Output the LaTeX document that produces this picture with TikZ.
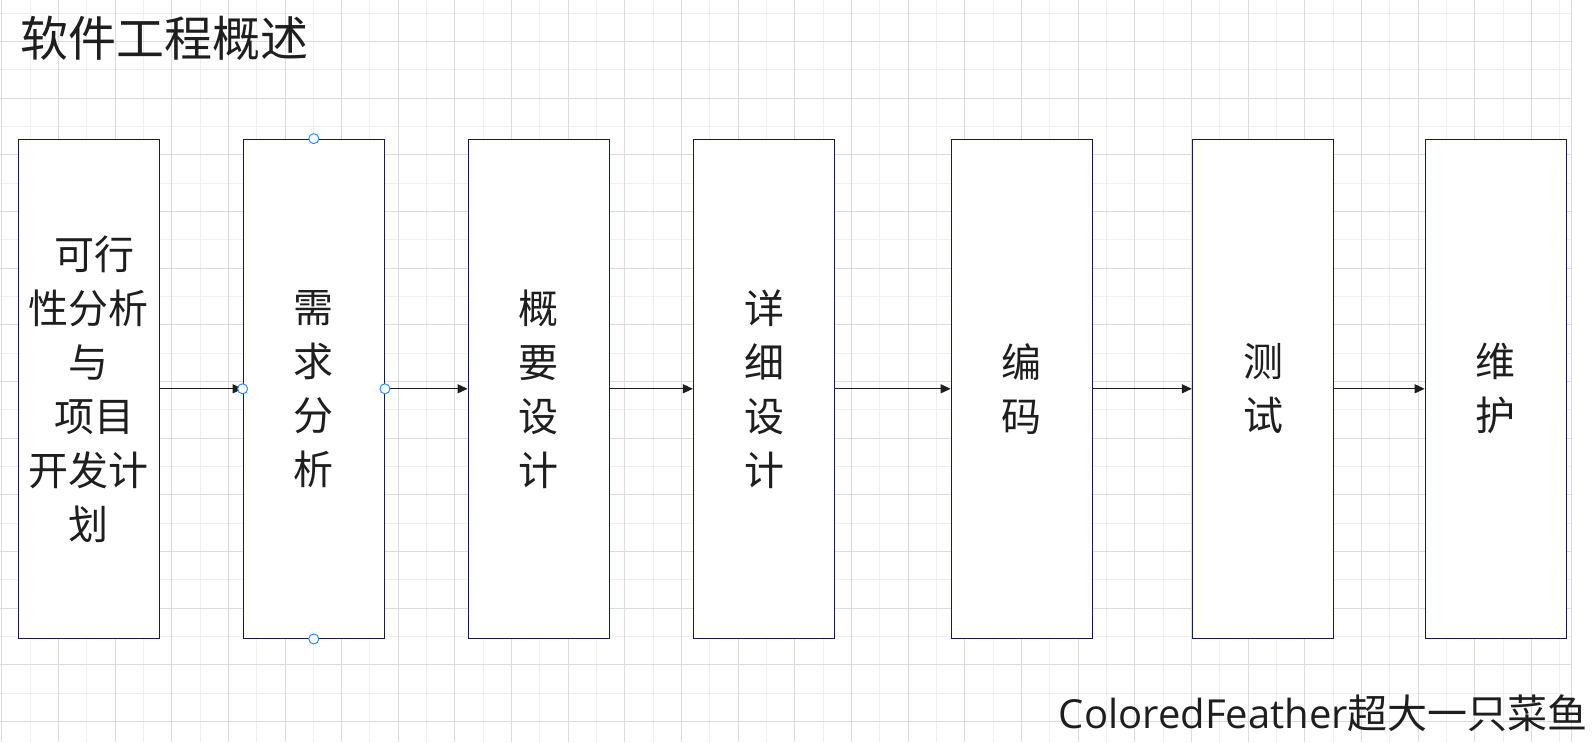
\documentclass[tikz,border=0pt]{standalone}
\usepackage{fontspec}
\setmainfont{Noto Sans CJK SC}
\newfontfamily\latinfont{Open Sans}
\usetikzlibrary{arrows.meta}
\definecolor{gridminor}{HTML}{EFEFEF}
\definecolor{gridmajor}{HTML}{DCDCDC}
\definecolor{boxline}{HTML}{161A48}
\definecolor{handleblue}{HTML}{2F8FF0}
\definecolor{inkcol}{HTML}{1E1E1E}
\tikzset{
  stage/.style={draw=boxline, fill=white, line width=1.3pt, minimum width=141pt,
    minimum height=499pt, inner sep=0pt, align=center, text=inkcol,
    font=\fontsize{40}{54}\selectfont},
  flow/.style={draw=inkcol, line width=1.2pt, -{Triangle[length=10pt,width=9pt]}},
  handle/.style={draw=handleblue, fill=white, line width=1pt}
}
\begin{document}
\begin{tikzpicture}[x=1pt,y=-1pt]
\useasboundingbox (0,0) rectangle (1593,742);
% grid
\foreach \k in {1,3,...,55} \draw[gridminor, line width=1pt] ({1.7+28.33*\k},0) -- ++(0,742);
\foreach \k in {0,2,...,24} \draw[gridminor, line width=1pt] (0,{13.3+28.33*\k}) -- (1571.3,{13.3+28.33*\k});
\foreach \k in {0,2,...,54} \draw[gridmajor, line width=1pt] ({1.7+28.33*\k},0) -- ++(0,742);
\foreach \k in {1,3,...,25} \draw[gridmajor, line width=1pt] (0,{13.3+28.33*\k}) -- (1571.3,{13.3+28.33*\k});
\draw[gridmajor, line width=1pt] (1571.3,0) -- (1571.3,742);
% title
\node[anchor=west, inner sep=0pt, text=inkcol, font=\fontsize{48}{58}\selectfont] (title) at (20,38) {软件工程概述};
% stages
\node[stage] (feas) at (88.8,388.8) {\hspace*{0.3em}可行\\性分析\\与\\\hspace*{0.3em}项目\\开发计\\划};
\node[stage] (req) at (313.8,388.8) {需\\求\\分\\析};
\node[stage] (arch) at (538.8,388.8) {概\\要\\设\\计};
\node[stage] (detail) at (764,388.8) {详\\细\\设\\计};
\node[stage] (code) at (1021.8,388.8) {编\\码};
\node[stage] (test) at (1263,388.8) {测\\试};
\node[stage] (maint) at (1495.8,388.8) {维\\护};
% arrows
\draw[flow] (feas.east) -- (req.west);
\draw[flow] (req.east) -- (arch.west);
\draw[flow] (arch.east) -- (detail.west);
\draw[flow] (detail.east) -- (code.west);
\draw[flow] (code.east) -- (test.west);
\draw[flow] (test.east) -- (maint.west);
% selection handles
\foreach \a in {north,south,east,west} \draw[handle] (req.\a) circle (5);
% signature
\node[anchor=east, inner sep=0pt, text=inkcol, font=\fontsize{40}{48}\selectfont] (sign) at (1588,713.5) {{\latinfont ColoredFeather}超大一只菜鱼};
\end{tikzpicture}
\end{document}
